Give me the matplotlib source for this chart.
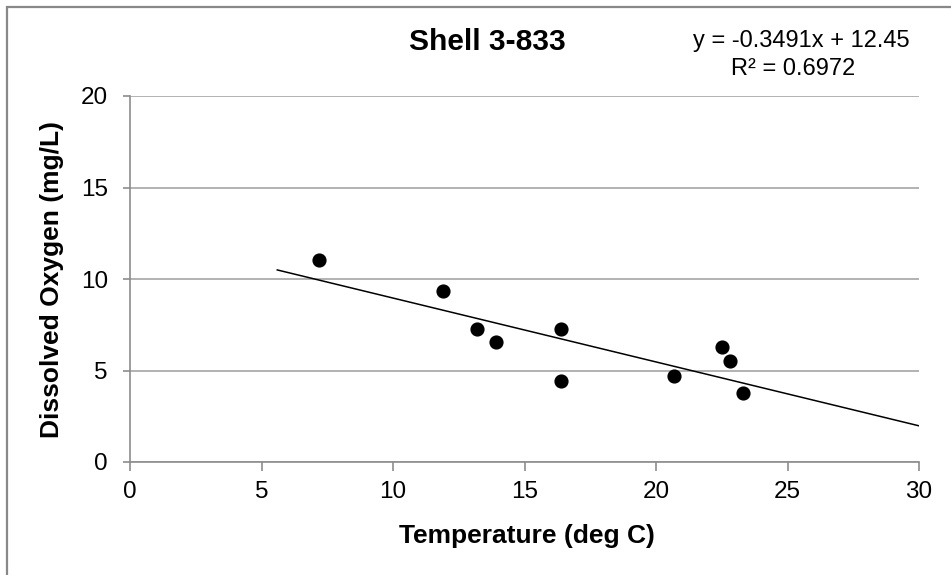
import numpy as np
import matplotlib
matplotlib.use("Agg")
from matplotlib import pyplot as plt
from matplotlib.patches import Rectangle

plt.rcParams['font.family'] = ['Liberation Sans', 'DejaVu Sans']

# temperature (deg C) vs dissolved oxygen (mg/L)
temp = [7.2, 11.9, 13.2, 13.9, 16.4, 16.4, 20.7, 22.5, 22.8, 23.3]
oxygen = [11.05, 9.35, 7.25, 6.55, 7.25, 4.45, 4.7, 6.3, 5.5, 3.75]

# linear trendline
slope = -0.3491
intercept = 12.45
r_squared = 0.6972
trend_x = [5.6, 30]

W, H = 951, 575
fig = plt.figure(figsize=(W / 100, H / 100), dpi=100)
ax = fig.add_axes([130 / W, 1 - 462 / H, (919 - 130) / W, (462 - 96) / H])

# chart border
fig.patches.append(Rectangle((6.5 / W, -0.1), 1.2, 1.1 - 6.5 / H, transform=fig.transFigure,
                             fill=False, edgecolor='#888888', linewidth=1.6))

ax.yaxis.grid(True, color='#a6a6a6', linewidth=1.2)
ax.set_axisbelow(True)

tx = np.array(trend_x)
ax.plot(tx, slope * tx + intercept, color='black', linewidth=1.1, zorder=2)
ax.plot(temp, oxygen, 'o', color='black', markersize=9.2, zorder=3)

ax.set_xlim(0, 30)
ax.set_ylim(0, 20)
ax.set_xticks(range(0, 31, 5))
ax.set_yticks(range(0, 21, 5))

for side in ['top', 'right']:
    ax.spines[side].set_visible(False)
for side in ['left', 'bottom']:
    ax.spines[side].set_color('#8c8c8c')
    ax.spines[side].set_linewidth(1.2)
ax.tick_params(axis='both', colors='#8c8c8c', labelcolor='black', labelsize=17.5, width=1.2)
ax.tick_params(axis='x', length=6.5, pad=7)
ax.tick_params(axis='y', length=5, pad=11)

ax.set_xlabel('Temperature (deg C)', fontsize=19, fontweight='bold', va='baseline')
ax.xaxis.set_label_coords(0.503, (462 - 543) / 366)
ax.set_ylabel('Dissolved Oxygen (mg/L)', fontsize=19, fontweight='bold', va='center')
ax.yaxis.set_label_coords((52 - 130) / 789, 0.5)

fig.text(487 / W, 1 - 42 / H, 'Shell 3-833', fontsize=21.5, fontweight='bold',
         ha='center', va='center')
fig.text(801 / W, 1 - 41 / H, f'y = {slope}x + {intercept}', fontsize=17,
         ha='center', va='center')
fig.text(793 / W, 1 - 69 / H, f'R² = {r_squared}', fontsize=17,
         ha='center', va='center')

fig.savefig('out.png', dpi=100)
